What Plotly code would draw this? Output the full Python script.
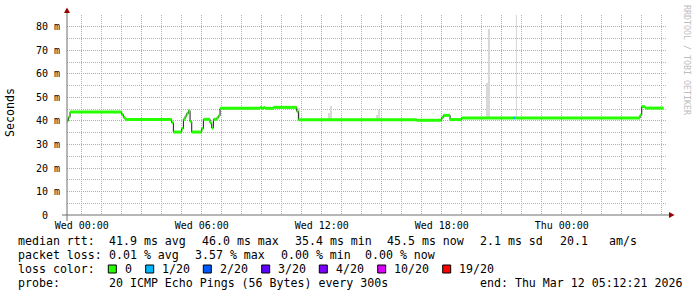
import plotly.graph_objects as go

# ---------------- data ----------------
# median rtt (ms): step start times, values and loss count (of 20) per step; last entry = end of data
med_times = [
    "2026-03-10 23:15", "2026-03-10 23:20", "2026-03-10 23:25", "2026-03-11 02:00",
    "2026-03-11 02:05", "2026-03-11 02:10", "2026-03-11 04:30", "2026-03-11 04:35",
    "2026-03-11 05:00", "2026-03-11 05:05", "2026-03-11 05:10", "2026-03-11 05:15",
    "2026-03-11 05:20", "2026-03-11 05:25", "2026-03-11 05:30", "2026-03-11 06:00",
    "2026-03-11 06:05", "2026-03-11 06:25", "2026-03-11 06:30", "2026-03-11 06:35",
    "2026-03-11 06:45", "2026-03-11 06:50", "2026-03-11 06:55", "2026-03-11 08:55",
    "2026-03-11 09:00", "2026-03-11 09:05", "2026-03-11 09:10", "2026-03-11 09:35",
    "2026-03-11 10:45", "2026-03-11 10:50", "2026-03-11 16:45", "2026-03-11 18:00",
    "2026-03-11 18:05", "2026-03-11 18:25", "2026-03-11 19:00", "2026-03-11 21:35",
    "2026-03-11 21:40", "2026-03-12 03:55", "2026-03-12 04:00", "2026-03-12 04:10",
    "2026-03-12 05:05",
]
med_values = [
    40.1, 41.6, 43.8, 42.7,
    41.5, 40.6, 39.3, 35.3,
    36.8, 40.7, 42.0, 43.2,
    44.4, 39.8, 35.3, 36.8,
    40.7, 39.2, 37.0, 40.7,
    41.3, 42.2, 45.4, 45.7,
    45.4, 45.7, 45.4, 45.8,
    44.1, 40.5, 40.3, 41.5,
    42.4, 40.6, 41.3, 41.3,
    41.3, 42.5, 46.1, 45.5,
    45.5,
]
med_loss = [0] * 35 + [1] + [0] * 5

# smoke (spread of the 20 pings), ms
smoke_times = ["2026-03-11 10:50", "2026-03-11 12:20", "2026-03-11 12:25", "2026-03-11 14:45",
               "2026-03-11 14:50", "2026-03-11 20:15", "2026-03-11 20:20"]
smoke_low = [40.5, 40.6, 40.6, 40.5, 40.5, 41.3, 41.3]
smoke_high = [45.5, 43.3, 46.4, 42.7, 44.8, 56.3, 79.1]

# thin smoke spike at the loss sample
spike_time = "2026-03-11 21:44"
spike_low = 41.3
spike_high = 85.1

# axes
x_start = "2026-03-10 23:15:50"
x_end = "2026-03-12 05:15:50"
x_major = ["2026-03-11 00:00", "2026-03-11 03:00", "2026-03-11 06:00", "2026-03-11 09:00",
           "2026-03-11 12:00", "2026-03-11 15:00", "2026-03-11 18:00", "2026-03-11 21:00",
           "2026-03-12 00:00", "2026-03-12 03:00"]
x_labels = ["Wed 00:00", "", "Wed 06:00", "", "Wed 12:00", "", "Wed 18:00", "", "Thu 00:00", ""]
y_ticks = [0, 10, 20, 30, 40, 50, 60, 70, 80]
y_labels = ["0\u00a0\u00a0", "10 m", "20 m", "30 m", "40 m", "50 m", "60 m", "70 m", "80 m"]
y_max = 85.1

loss_levels = [0, 1, 2, 3, 4, 10, 19]
loss_names = ["0", "1/20", "2/20", "3/20", "4/20", "10/20", "19/20"]
loss_colors = ["#26ff00", "#00b8ff", "#0059ff", "#5e00ff", "#7e00ff", "#dd00ff", "#ff0000"]

stats_rtt = ["median rtt:", "41.9 ms avg", "46.0 ms max", "35.4 ms min", "45.5 ms now", "2.1 ms sd", "20.1", "am/s"]
stats_loss = ["packet loss:", "0.01 % avg", "3.57 % max", "0.00 % min", "0.00 % now"]
probe_text = ["probe:", "20 ICMP Echo Pings (56 Bytes) every 300s", "end: Thu Mar 12 05:12:21 2026"]

# ---------------- layout helpers ----------------
W, H = 697, 297
L, R, T, B = 67, 667, 15, 215
MONO = "DejaVu Sans Mono"


def px(x):
    return (x - L) / (R - L)


def py(y):
    return (B - y) / (B - T)


fig = go.Figure()

# smoke
fig.add_trace(go.Bar(
    x=smoke_times, y=[h - l for h, l in zip(smoke_high, smoke_low)], base=smoke_low,
    width=300000, offset=0, marker=dict(color="#d9d9d9", line=dict(width=0)),
    showlegend=False, hoverinfo="skip"))
fig.add_trace(go.Scatter(
    x=[spike_time, spike_time], y=[spike_low, spike_high], mode="lines",
    line=dict(color="#d4d4d4", width=1), showlegend=False, hoverinfo="skip"))

# dark step line underneath
fig.add_trace(go.Scatter(
    x=med_times, y=med_values, mode="lines", line=dict(color="#1a1a1a", width=1, shape="hv"),
    showlegend=False, hoverinfo="skip"))

# loss-coloured horizontal segments
for lvl, col in zip(loss_levels, loss_colors):
    xs, ys = [], []
    for i in range(len(med_times) - 1):
        if med_loss[i] == lvl:
            xs += [med_times[i], med_times[i + 1], None]
            ys += [med_values[i], med_values[i], None]
    if xs:
        fig.add_trace(go.Scatter(x=xs, y=ys, mode="lines", line=dict(color=col, width=3),
                                 showlegend=False, hoverinfo="skip"))

shapes = []
ann = []
AXC = "#6e6e6e"
ARC = "#9a0000"
# axis lines
shapes.append(dict(type="line", xref="paper", yref="paper", x0=px(67), x1=px(67), y0=py(221), y1=py(10),
                   line=dict(color=AXC, width=1)))
shapes.append(dict(type="line", xref="paper", yref="paper", x0=px(62), x1=px(671), y0=py(215), y1=py(215),
                   line=dict(color=AXC, width=1)))
# arrows
shapes.append(dict(type="path", xref="paper", yref="paper",
                   path=f"M {px(64)} {py(13)} L {px(70)} {py(13)} L {px(67)} {py(7.5)} Z",
                   fillcolor=ARC, line=dict(color=ARC, width=0)))
shapes.append(dict(type="path", xref="paper", yref="paper",
                   path=f"M {px(669)} {py(212)} L {px(669)} {py(218)} L {px(674.5)} {py(215)} Z",
                   fillcolor=ARC, line=dict(color=ARC, width=0)))

# y title
ann.append(dict(text="Seconds", x=px(10), y=py(113), xref="paper", yref="paper", showarrow=False,
                textangle=-90, font=dict(family=MONO, size=11.6, color="#000"), xanchor="center", yanchor="middle"))
# watermark
ann.append(dict(text="RRDTOOL / TOBI OETIKER", x=px(687), y=py(60), xref="paper", yref="paper", showarrow=False,
                textangle=90, font=dict(family=MONO, size=8.3, color="#bdbdbd"), xanchor="center", yanchor="middle"))


def txt(s, x, y):
    ann.append(dict(text=s, x=px(x), y=py(y), xref="paper", yref="paper", showarrow=False,
                    xanchor="left", yanchor="middle", font=dict(family=MONO, size=11.6, color="#000")))


rtt_x = [16, 107, 199.5, 292.5, 385, 478, 558, 606.5]
for s, x in zip(stats_rtt, rtt_x):
    txt(s, x, 241)
loss_x = [16, 107, 193, 279, 363]
for s, x in zip(stats_loss, loss_x):
    txt(s, x, 255)
txt("loss color:", 16, 269)
sq_x = [108.3, 145.7, 203.3, 261.7, 319.3, 377.7, 442.7]
lab_x = [123, 159.5, 218, 276.3, 333.5, 391.5, 456.5]
for name, col, sx, lx in zip(loss_names, loss_colors, sq_x, lab_x):
    shapes.append(dict(type="rect", xref="paper", yref="paper", x0=px(sx), x1=px(sx + 8), y0=py(265), y1=py(273),
                       fillcolor=col, line=dict(color="#000", width=1)))
    txt(name, lx, 269)
for s, x in zip(probe_text, [16, 107, 478]):
    txt(s, x, 283)

grid_major = "rgb(228,150,150)"
grid_minor = "rgb(180,180,180)"

fig.update_layout(
    width=W, height=H, margin=dict(l=L, r=W - R, t=T, b=H - B),
    paper_bgcolor="white", plot_bgcolor="white", showlegend=False, bargap=0,
    shapes=shapes, annotations=ann,
    xaxis=dict(type="date", range=[x_start, x_end], tickvals=x_major, ticktext=x_labels,
               showgrid=True, gridcolor=grid_major, griddash="1px,1px", gridwidth=1,
               minor=dict(dtick=3600000, tick0="2026-03-11 00:00", showgrid=True, gridcolor=grid_minor,
                          griddash="1px,1px", gridwidth=1),
               zeroline=False, showline=False, ticks="", ticklabelstandoff=3,
               tickfont=dict(family=MONO, size=10, color="#000")),
    yaxis=dict(range=[0, y_max], tickvals=y_ticks, ticktext=y_labels,
               showgrid=True, gridcolor=grid_major, griddash="1px,1px", gridwidth=1,
               minor=dict(dtick=5, tick0=0, showgrid=True, gridcolor=grid_minor, griddash="1px,1px", gridwidth=1),
               zeroline=False, showline=False, ticks="", ticklabelstandoff=6,
               tickfont=dict(family=MONO, size=10, color="#000")),
)

fig.write_html("out.html")
